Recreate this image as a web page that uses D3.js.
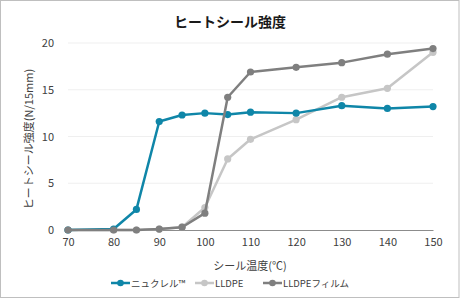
<!DOCTYPE html>
<html><head><meta charset="utf-8">
<script src="https://cdn.jsdelivr.net/npm/d3@7"></script>
<style>
body{margin:0;background:#fff;}
text{font-family:"Noto Sans CJK JP","Noto Sans",sans-serif;}
</style></head><body>
<svg id="c" width="460" height="299"></svg>
<script>
const temps = [70, 80, 85, 90, 95, 100, 105, 110, 120, 130, 140, 150];
const nucrel = [0, 0.1, 2.2, 11.6, 12.3, 12.5, 12.35, 12.6, 12.5, 13.3, 13.0, 13.2];
const lldpe = [0, 0, 0, 0.1, 0.3, 2.4, 7.6, 9.7, 11.8, 14.2, 15.15, 19.0];
const lldpeFilm = [0, 0, 0, 0.1, 0.3, 1.8, 14.2, 16.9, 17.4, 17.9, 18.8, 19.4];
const xTicks = [70, 80, 90, 100, 110, 120, 130, 140, 150];
const yTicks = [0, 5, 10, 15, 20];
const seriesNames = ["ニュクレル™", "LLDPE", "LLDPEフィルム"];
const colors = ["#0f86a8", "#c6c6c6", "#7f7f7f"];
const title = "ヒートシール強度";
const xTitle = "シール温度(℃)";
const yTitle = "ヒートシール強度(N/15mm)";

const svg = d3.select("#c");
svg.append("rect").attr("x",0.5).attr("y",0.5).attr("width",458.5).attr("height",297)
  .attr("fill","#fff").attr("stroke","#bfbfbf");

const x = d3.scaleLinear().domain([70,150]).range([68,433]);
const y = d3.scaleLinear().domain([0,20]).range([230,43]);

svg.append("g").selectAll("line").data(yTicks.filter(d=>d>0)).join("line")
  .attr("x1",x(70)).attr("x2",x(150)).attr("y1",d=>y(d)).attr("y2",d=>y(d))
  .attr("stroke","#efefef").attr("stroke-width",1);

const xa = svg.append("g").attr("transform",`translate(0,${y(0)})`)
  .call(d3.axisBottom(x).tickValues(xTicks).tickSize(0).tickPadding(8).tickFormat(d3.format("d")));
xa.select(".domain").attr("stroke","#8c8c8c").attr("stroke-width",1);
xa.selectAll("text").attr("fill","#404040").style("font-size","11px");

const ya = svg.append("g").attr("transform",`translate(${x(70)},0)`)
  .call(d3.axisLeft(y).tickValues(yTicks).tickSize(0).tickPadding(14));
ya.select(".domain").remove();
ya.selectAll("text").attr("fill","#404040").style("font-size","11px");

svg.append("text").attr("x",230).attr("y",27).attr("text-anchor","middle")
  .style("font-size","14px").style("font-weight","bold").attr("fill","#1a1a1a").text(title);
svg.append("text").attr("x",250).attr("y",270).attr("text-anchor","middle")
  .style("font-size","11px").attr("fill","#404040").text(xTitle);
svg.append("text").attr("transform","translate(33,139) rotate(-90)").attr("text-anchor","middle")
  .style("font-size","11px").attr("fill","#404040").text(yTitle);

const data = [nucrel, lldpe, lldpeFilm];
const line = d3.line().x((d,i)=>x(temps[i])).y(d=>y(d));
const order = [1,0,2];
order.forEach(k=>{
  const g = svg.append("g");
  g.append("path").datum(data[k]).attr("d",line).attr("fill","none")
    .attr("stroke",colors[k]).attr("stroke-width",2.5).attr("stroke-linejoin","round");
  g.selectAll("circle").data(data[k]).join("circle")
    .attr("cx",(d,i)=>x(temps[i])).attr("cy",d=>y(d)).attr("r",3.6).attr("fill",colors[k]);
});

const leg = svg.append("g");
const legPos = [111, 195, 263];
seriesNames.forEach((n,k)=>{
  const lx = legPos[k];
  const ly = 283;
  leg.append("line").attr("x1",lx).attr("x2",lx+19).attr("y1",ly).attr("y2",ly)
    .attr("stroke",colors[k]).attr("stroke-width",2.5);
  leg.append("circle").attr("cx",lx+9.5).attr("cy",ly).attr("r",3.3).attr("fill",colors[k]);
  leg.append("text").attr("x",lx+20).attr("y",ly+3.5).style("font-size","9.5px")
    .attr("fill","#404040").text(n);
});
</script>
</body></html>
